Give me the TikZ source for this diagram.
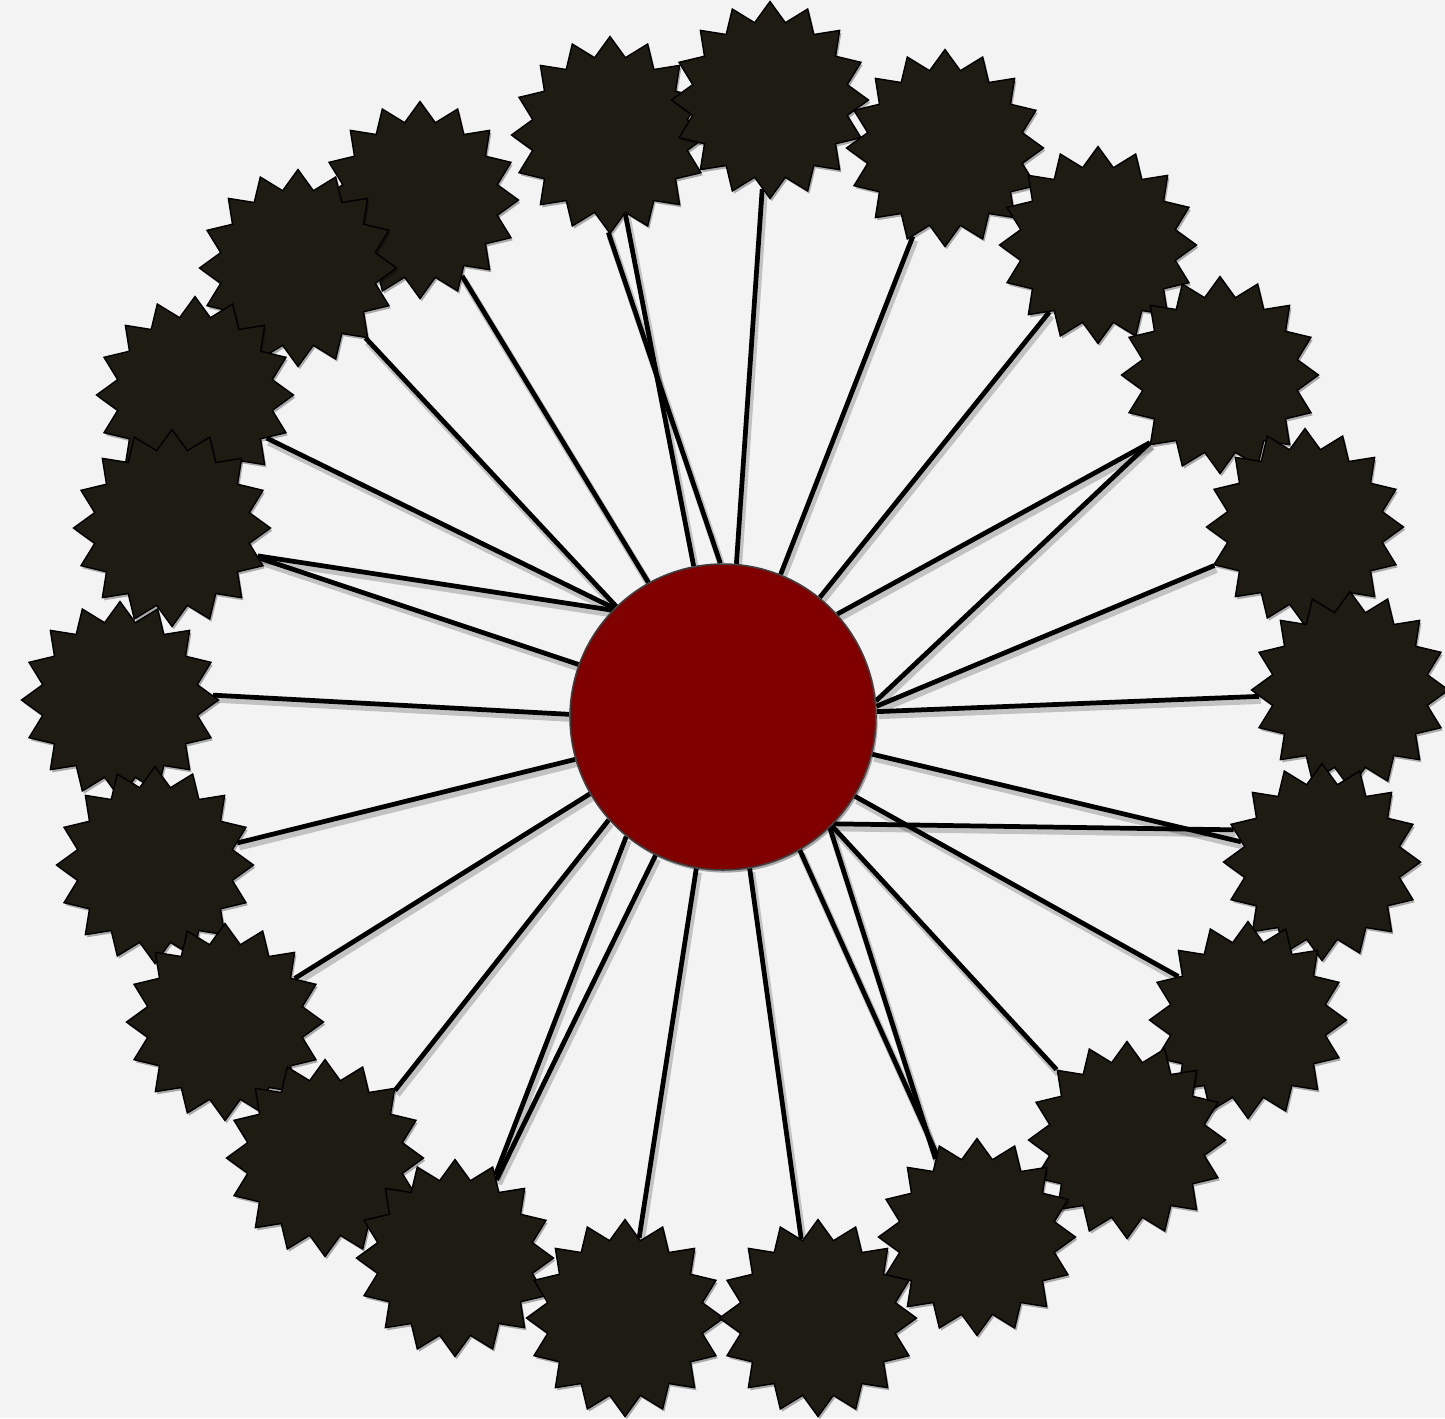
\documentclass[tikz,border=0pt]{standalone}
\usetikzlibrary{shapes.geometric,shadows}
\pgfdeclarelayer{paperlayer}
\pgfdeclarelayer{bg}
\pgfsetlayers{paperlayer,bg,main}
\definecolor{paper}{RGB}{243,243,243}
\definecolor{burst}{RGB}{29,27,18}
\definecolor{hub}{RGB}{128,0,0}
\begin{document}
\begin{tikzpicture}[x=0.02cm,y=-0.02cm,
  burststar/.style={star, star points=16, star point ratio=1.25, minimum size=3.94cm,
    inner sep=0pt, fill=burst, draw=black, line width=0.8pt,
    drop shadow={shadow xshift=1pt, shadow yshift=-1.5pt, opacity=0.3, fill=black}},
  hubnode/.style={circle, minimum size=6.12cm, inner sep=0pt, fill=hub,
    draw=black!75, line width=0.9pt,
    drop shadow={shadow xshift=1pt, shadow yshift=-1.5pt, opacity=0.3, fill=black}},
  spoke/.style={line width=2.7pt, draw=black},
  spokeshade/.style={line width=4pt, draw=black, opacity=0.2}
]
\useasboundingbox (0,0) rectangle (1445,1418);
\begin{pgfonlayer}{paperlayer}
\fill[paper] (0,0) rectangle (1445,1418);
\end{pgfonlayer}

\node[hubnode] (c) at (723,717) {};

\node[burststar] (s2) at (610,135) {};
\node[burststar] (s1) at (770,100) {};
\node[burststar] (s3) at (945,148) {};
\node[burststar] (s4) at (420,200) {};
\node[burststar] (s5) at (1098,245) {};
\node[burststar] (s6) at (298,268) {};
\node[burststar] (s7) at (1220,375) {};
\node[burststar] (s8) at (195,395) {};
\node[burststar] (s9) at (172,528) {};
\node[burststar] (s10) at (1305,527) {};
\node[burststar] (s11) at (120,700) {};
\node[burststar] (s12) at (1350,690) {};
\node[burststar] (s13) at (155,865) {};
\node[burststar] (s14) at (1322,862) {};
\node[burststar] (s15) at (225,1022) {};
\node[burststar] (s16) at (1248,1020) {};
\node[burststar] (s17) at (325,1158) {};
\node[burststar] (s18) at (1127,1140) {};
\node[burststar] (s19) at (455,1258) {};
\node[burststar] (s20) at (977,1237) {};
\node[burststar] (s21) at (625,1318) {};
\node[burststar] (s22) at (818,1318) {};

\begin{pgfonlayer}{bg}
\foreach \a/\s/\b in {85/s1/265, 91/s2/269, 101/s2/281, 68/s3/250, 51/s5/234,
  42/s7/224, 6/s7/224, 4/s10/203, 2/s12/184, 346/s14/166, 316/s14/160,
  329/s16/148, 315/s18/135, 314/s20/118, 300/s20/116, 280/s22/102,
  260/s21/80, 244/s19/62, 231/s19/64, 222/s17/44, 210/s15/32, 196/s13/15,
  179/s11/3, 160/s9/341, 136/s9/342, 135/s8/329, 134/s6/314, 119/s4/299}
{
  \draw[spokeshade] ([shift={(2,4)}]c.\a) -- ([shift={(2,4)}]\s.\b);
  \draw[spoke] (c.\a) -- (\s.\b);
}
\end{pgfonlayer}
\end{tikzpicture}
\end{document}
